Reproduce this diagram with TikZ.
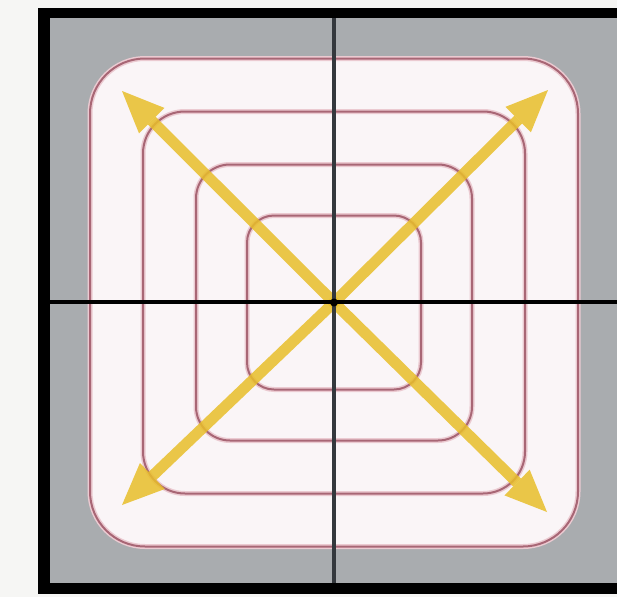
\documentclass[tikz,border=0pt]{standalone}
\usetikzlibrary{arrows.meta}

\definecolor{pagewhite}{HTML}{F6F6F4}
\definecolor{fieldgray}{HTML}{A9ACAF}
\definecolor{levelrose}{HTML}{A86675}
\definecolor{levelhalo}{HTML}{EBCAD1}
\definecolor{innerwhite}{HTML}{FAF5F7}
\definecolor{arrowgold}{HTML}{E8BE2A}
\definecolor{axisgray}{HTML}{34383D}

\tikzset{
  halo/.style={draw=levelhalo, line width=5pt},
  level/.style={draw=levelrose, line width=2pt},
  axisline/.style={line width=4.5pt},
  goldarrow/.style={draw=arrowgold, line width=11pt, opacity=0.85,
    -{Triangle[length=42pt, width=36pt, line width=0pt, fill=arrowgold]}},
}

\begin{document}
\begin{tikzpicture}[x=1pt, y=-1pt]
  \useasboundingbox (0,0) rectangle (617,597);

  % ================= 底色与外框 =================
  \fill[pagewhite] (0,0) rectangle (617,597);
  \fill[black] (38,8) rectangle (617,594);
  \fill[fieldgray] (50,18) rectangle (617,583);

  \coordinate (O) at (334,302.5);

  % ================= 等值线 (圆角方框) =================
  \fill[innerwhite, rounded corners=55pt] (90,58.5) rectangle (578,546.5);
  \foreach \h/\r in {244/55, 191/42, 138/34, 87/27} {
    \draw[halo, rounded corners=\r pt] (334-\h,302.5-\h) rectangle (334+\h,302.5+\h);
    \draw[level, rounded corners=\r pt] (334-\h,302.5-\h) rectangle (334+\h,302.5+\h);
  }

  % ================= 对角箭头 =================
  \coordinate (NW) at (122,91);
  \coordinate (NE) at (548,90);
  \coordinate (SW) at (122,505);
  \coordinate (SE) at (547,512);
  \foreach \c in {NW, NE, SW, SE}
    \draw[goldarrow] (O) -- (\c);

  % ================= 坐标轴 =================
  \draw[axisline, axisgray] (334,18) -- (334,583);
  \draw[axisline, black] (50,302) -- (617,302);
  \fill[black] (O) circle (4pt);
\end{tikzpicture}
\end{document}
